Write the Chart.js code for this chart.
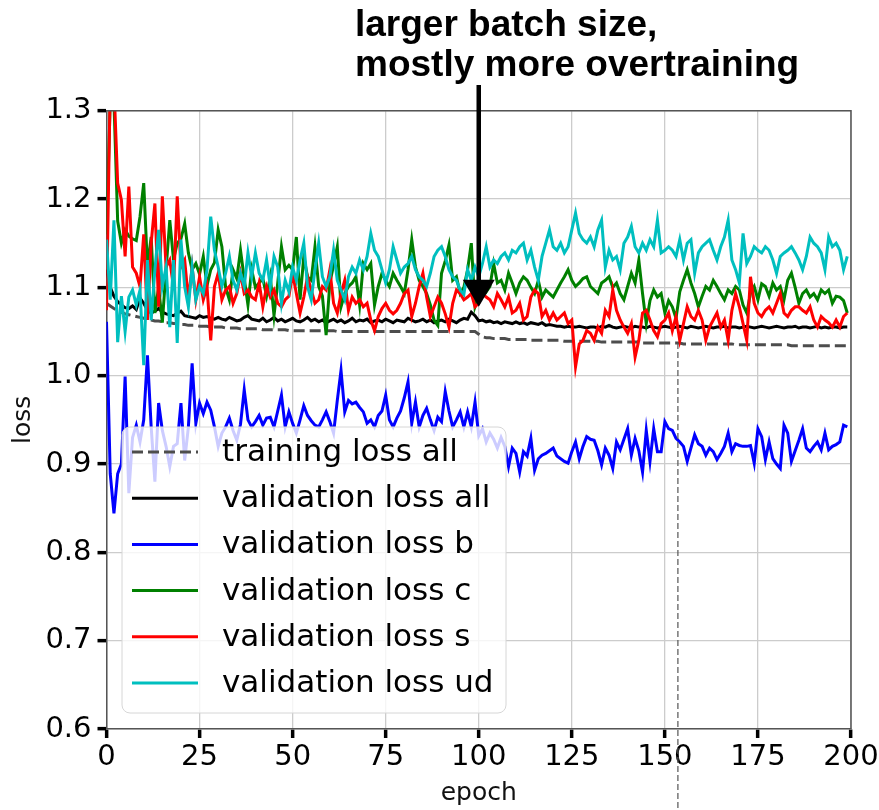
<!DOCTYPE html>
<html><head><meta charset="utf-8">
<script src="https://cdn.jsdelivr.net/npm/chart.js@4.4.0/dist/chart.umd.min.js"></script>
<style>
html,body{margin:0;padding:0;background:#fff;overflow:hidden;width:879px;height:810px}
canvas{display:block}
</style>
</head><body>
<canvas id="c" width="879" height="810" style="width:879px;height:810px"></canvas>
<script>
// ---------------- data ----------------
const seriesLabels = ['training loss all','validation loss all','validation loss b','validation loss c','validation loss s','validation loss ud'];
const xTicks = [0,25,50,75,100,125,150,175,200];
const yTicks = [0.6,0.7,0.8,0.9,1.0,1.1,1.2,1.3];
const annotationLines = ['larger batch size,','mostly more overtraining'];
const arrowEpoch = 100, arrowTipLoss = 1.078, arrowTailLoss = 1.329;
const markerEpoch = 153.5, markerLoss = 1.037;

const trainLoss = [
1.082,1.079,1.076,1.074,1.072,1.070,1.069,1.068,1.067,1.066,
1.065,1.064,1.063,1.062,1.062,1.061,1.060,1.060,1.059,1.059,
1.058,1.058,1.057,1.057,1.057,1.056,1.056,1.056,1.055,1.055,
1.055,1.055,1.054,1.054,1.054,1.054,1.053,1.053,1.053,1.053,
1.053,1.053,1.052,1.052,1.052,1.052,1.052,1.052,1.052,1.051,
1.051,1.051,1.051,1.051,1.051,1.051,1.051,1.051,1.051,1.051,
1.051,1.051,1.050,1.050,1.050,1.050,1.050,1.050,1.050,1.050,
1.050,1.050,1.050,1.050,1.050,1.050,1.050,1.050,1.050,1.050,
1.050,1.050,1.050,1.050,1.050,1.050,1.050,1.050,1.050,1.050,
1.050,1.050,1.050,1.050,1.050,1.050,1.050,1.050,1.050,1.050,
1.047,1.044,1.043,1.043,1.042,1.042,1.042,1.042,1.041,1.041,
1.041,1.041,1.041,1.041,1.040,1.040,1.040,1.040,1.040,1.040,
1.040,1.040,1.040,1.039,1.039,1.039,1.039,1.039,1.039,1.039,
1.039,1.039,1.039,1.038,1.038,1.038,1.038,1.038,1.038,1.038,
1.038,1.038,1.038,1.038,1.037,1.037,1.037,1.037,1.037,1.037,
1.037,1.037,1.037,1.037,1.037,1.036,1.036,1.036,1.036,1.036,
1.036,1.036,1.036,1.036,1.036,1.036,1.036,1.036,1.036,1.035,
1.035,1.035,1.035,1.035,1.035,1.035,1.035,1.035,1.035,1.035,
1.035,1.035,1.035,1.035,1.034,1.034,1.034,1.034,1.034,1.034,
1.034,1.034,1.034,1.034,1.034,1.034,1.034,1.034,1.034,1.034];

const valAll = [
1.120,1.100,1.090,1.084,1.080,1.077,1.076,1.079,1.075,1.088,
1.082,1.074,1.071,1.073,1.076,1.072,1.070,1.069,1.068,1.071,
1.073,1.068,1.067,1.066,1.065,1.068,1.066,1.067,1.065,1.064,
1.066,1.064,1.063,1.066,1.064,1.062,1.063,1.066,1.068,1.064,
1.063,1.062,1.065,1.061,1.063,1.066,1.062,1.064,1.061,1.063,
1.065,1.062,1.061,1.063,1.066,1.062,1.064,1.061,1.063,1.060,
1.062,1.064,1.061,1.063,1.060,1.062,1.065,1.061,1.063,1.062,
1.064,1.060,1.062,1.063,1.061,1.064,1.062,1.060,1.063,1.062,
1.061,1.065,1.063,1.061,1.062,1.064,1.061,1.063,1.060,1.062,
1.063,1.061,1.064,1.062,1.060,1.063,1.065,1.064,1.072,1.068,
1.062,1.063,1.061,1.062,1.060,1.061,1.059,1.061,1.060,1.059,
1.061,1.059,1.060,1.058,1.060,1.059,1.058,1.060,1.057,1.058,
1.057,1.056,1.056,1.055,1.056,1.055,1.055,1.056,1.055,1.054,
1.055,1.055,1.054,1.056,1.055,1.057,1.055,1.054,1.055,1.056,
1.055,1.054,1.056,1.055,1.055,1.054,1.056,1.055,1.054,1.055,
1.056,1.055,1.054,1.055,1.056,1.055,1.054,1.056,1.055,1.054,
1.055,1.056,1.055,1.054,1.055,1.055,1.056,1.054,1.055,1.055,
1.054,1.055,1.056,1.055,1.054,1.055,1.056,1.055,1.054,1.055,
1.056,1.055,1.054,1.055,1.055,1.056,1.054,1.055,1.055,1.054,
1.055,1.056,1.054,1.055,1.054,1.055,1.055,1.054,1.055,1.055];

const valB = [
1.061,0.889,0.844,0.889,0.900,0.999,0.867,0.930,0.944,0.925,
0.950,1.023,0.942,0.880,0.969,0.938,0.920,0.897,0.920,0.923,
0.969,0.904,0.942,1.014,0.946,0.969,0.957,0.970,0.961,0.942,
0.920,0.935,0.942,0.952,0.938,0.927,0.945,0.984,0.950,0.942,
0.948,0.955,0.944,0.952,0.953,0.942,0.960,0.978,0.942,0.959,
0.946,0.935,0.950,0.966,0.955,0.949,0.944,0.942,0.950,0.959,
0.948,0.935,0.972,1.006,0.959,0.972,0.968,0.970,0.964,0.959,
0.946,0.950,0.942,0.955,0.960,0.978,0.950,0.942,0.952,0.960,
0.975,0.993,0.946,0.970,0.942,0.955,0.963,0.950,0.938,0.953,
0.948,0.982,0.960,0.942,0.950,0.959,0.942,0.959,0.942,0.970,
0.932,0.940,0.925,0.935,0.928,0.918,0.930,0.920,0.897,0.918,
0.912,0.891,0.914,0.909,0.929,0.893,0.906,0.910,0.912,0.915,
0.918,0.909,0.906,0.903,0.901,0.914,0.925,0.906,0.920,0.931,
0.928,0.927,0.915,0.899,0.918,0.910,0.895,0.925,0.916,0.928,
0.940,0.910,0.929,0.915,0.891,0.938,0.903,0.940,0.914,0.914,
0.948,0.940,0.938,0.929,0.925,0.920,0.903,0.918,0.933,0.923,
0.920,0.910,0.918,0.914,0.905,0.912,0.920,0.935,0.914,0.923,
0.921,0.920,0.920,0.921,0.901,0.940,0.931,0.905,0.925,0.906,
0.900,0.895,0.944,0.935,0.903,0.915,0.927,0.940,0.918,0.914,
0.920,0.925,0.916,0.935,0.916,0.920,0.922,0.925,0.944,0.942];

const valC = [
1.160,1.310,1.310,1.175,1.150,1.165,1.158,1.155,1.153,1.180,
1.218,1.123,1.157,1.071,1.100,1.060,1.120,1.176,1.131,1.150,
1.155,1.172,1.139,1.120,1.127,1.115,1.135,1.102,1.120,1.128,
1.165,1.146,1.100,1.086,1.120,1.110,1.142,1.110,1.080,1.120,
1.100,1.105,1.110,1.090,1.112,1.068,1.105,1.146,1.120,1.125,
1.120,1.157,1.086,1.135,1.112,1.108,1.146,1.101,1.090,1.046,
1.105,1.125,1.146,1.078,1.093,1.101,1.105,1.112,1.080,1.127,
1.120,1.127,1.080,1.101,1.116,1.108,1.101,1.116,1.108,1.101,
1.093,1.120,1.154,1.123,1.108,1.101,1.093,1.080,1.063,1.057,
1.116,1.130,1.148,1.108,1.112,1.093,1.100,1.120,1.150,1.078,
1.090,1.101,1.095,1.101,1.127,1.105,1.108,1.097,1.116,1.105,
1.093,1.105,1.112,1.108,1.100,1.093,1.108,1.089,1.097,1.093,
1.089,1.097,1.105,1.112,1.120,1.108,1.101,1.105,1.110,1.112,
1.101,1.097,1.093,1.105,1.108,1.112,1.100,1.105,1.093,1.086,
1.101,1.116,1.105,1.131,1.093,1.059,1.085,1.097,1.089,1.093,
1.071,1.085,1.078,1.065,1.095,1.108,1.120,1.105,1.093,1.078,
1.090,1.101,1.097,1.108,1.101,1.093,1.086,1.097,1.093,1.101,
1.097,1.080,1.071,1.093,1.101,1.086,1.104,1.101,1.090,1.105,
1.097,1.101,1.086,1.108,1.116,1.100,1.082,1.093,1.097,1.089,
1.093,1.086,1.097,1.093,1.097,1.082,1.090,1.089,1.085,1.071];

const valS = [
1.074,1.330,1.330,1.218,1.199,1.135,1.214,1.123,1.116,1.101,
1.160,1.063,1.150,1.195,1.078,1.203,1.123,1.131,1.100,1.203,
1.123,1.131,1.086,1.123,1.086,1.112,1.086,1.101,1.040,1.101,
1.116,1.086,1.097,1.101,1.082,1.093,1.116,1.093,1.097,1.089,
1.086,1.105,1.078,1.101,1.089,1.097,1.082,1.078,1.086,1.090,
1.116,1.093,1.071,1.089,1.112,1.097,1.082,1.086,1.101,1.097,
1.120,1.082,1.071,1.093,1.108,1.074,1.089,1.082,1.086,1.078,
1.082,1.063,1.051,1.067,1.076,1.082,1.074,1.070,1.074,1.082,
1.093,1.097,1.067,1.082,1.101,1.116,1.089,1.067,1.078,1.089,
1.082,1.070,1.055,1.082,1.097,1.093,1.086,1.089,1.093,1.078,
1.082,1.093,1.089,1.086,1.078,1.093,1.086,1.078,1.089,1.071,
1.074,1.082,1.063,1.067,1.089,1.097,1.093,1.067,1.074,1.063,
1.071,1.063,1.067,1.071,1.059,1.063,1.010,1.036,1.040,1.051,
1.048,1.040,1.055,1.048,1.074,1.067,1.097,1.074,1.063,1.055,
1.048,1.059,1.021,1.040,1.071,1.074,1.063,1.051,1.044,1.059,
1.063,1.071,1.051,1.067,1.040,1.059,1.078,1.067,1.063,1.074,
1.063,1.040,1.055,1.063,1.071,1.055,1.063,1.040,1.074,1.093,
1.078,1.059,1.040,1.112,1.082,1.071,1.067,1.074,1.078,1.071,
1.082,1.093,1.071,1.067,1.074,1.078,1.078,1.074,1.071,1.078,
1.063,1.055,1.067,1.063,1.060,1.055,1.063,1.055,1.067,1.071];

const valUd = [
1.154,1.086,1.176,1.038,1.090,1.050,1.089,1.097,1.080,1.097,
1.012,1.131,1.063,1.120,1.165,1.101,1.123,1.055,1.131,1.037,
1.154,1.101,1.078,1.123,1.086,1.101,1.093,1.120,1.180,1.142,
1.123,1.101,1.116,1.135,1.108,1.097,1.116,1.101,1.139,1.112,
1.139,1.116,1.108,1.131,1.101,1.135,1.123,1.082,1.108,1.095,
1.123,1.108,1.131,1.150,1.101,1.086,1.120,1.150,1.112,1.101,
1.112,1.142,1.108,1.097,1.086,1.112,1.123,1.116,1.131,1.120,
1.135,1.161,1.142,1.135,1.120,1.105,1.120,1.146,1.131,1.116,
1.123,1.127,1.135,1.120,1.112,1.108,1.101,1.116,1.135,1.142,
1.146,1.135,1.120,1.112,1.108,1.097,1.092,1.120,1.108,1.123,
1.112,1.127,1.146,1.123,1.131,1.127,1.135,1.139,1.131,1.142,
1.139,1.146,1.150,1.131,1.142,1.123,1.108,1.135,1.150,1.165,
1.146,1.142,1.150,1.139,1.146,1.165,1.184,1.161,1.154,1.150,
1.157,1.146,1.165,1.176,1.123,1.142,1.131,1.135,1.120,1.150,
1.157,1.169,1.146,1.139,1.150,1.142,1.154,1.146,1.176,1.139,
1.142,1.146,1.142,1.135,1.154,1.131,1.150,1.154,1.116,1.139,
1.146,1.150,1.154,1.142,1.131,1.146,1.157,1.176,1.131,1.120,
1.105,1.161,1.127,1.135,1.146,1.142,1.139,1.146,1.142,1.131,
1.116,1.135,1.139,1.142,1.146,1.139,1.131,1.120,1.135,1.157,
1.150,1.146,1.139,1.120,1.157,1.146,1.150,1.142,1.120,1.135];

const epochs = trainLoss.map((_, i) => i);

// ---------------- chart ----------------
const W = 879, H = 810;
const canvas = document.getElementById('c');
const FONT = "'DejaVu Sans', sans-serif";
const seriesColors = ['#4d4d4d', '#000000', '#0000ff', '#008000', '#ff0000', '#00bfbf'];
const seriesValues = [trainLoss, valAll, valB, valC, valS, valUd];

const datasets = seriesValues.map((vals, i) => ({
  label: seriesLabels[i],
  data: vals,
  borderColor: seriesColors[i],
  backgroundColor: seriesColors[i],
  borderWidth: 3,
  borderDash: i === 0 ? [11, 5] : [],
  pointRadius: 0,
  tension: 0,
  fill: false,
  order: seriesValues.length - i
}));

function roundRect(ctx, x, y, w, h, r) {
  ctx.beginPath();
  ctx.moveTo(x + r, y);
  ctx.arcTo(x + w, y, x + w, y + h, r);
  ctx.arcTo(x + w, y + h, x, y + h, r);
  ctx.arcTo(x, y + h, x, y, r);
  ctx.arcTo(x, y, x + w, y, r);
  ctx.closePath();
}

const overlay = {
  id: 'overlay',
  afterDatasetsDraw(chart) {
    const {ctx, chartArea: a, scales: {x, y}} = chart;
    ctx.save();
    // top/right frame
    ctx.strokeStyle = '#555'; ctx.lineWidth = 1.5;
    ctx.beginPath(); ctx.moveTo(a.left, a.top); ctx.lineTo(a.right, a.top); ctx.lineTo(a.right, a.bottom); ctx.stroke();

    // vertical dashed marker
    const mx = x.getPixelForValue(markerEpoch);
    ctx.strokeStyle = '#555'; ctx.lineWidth = 1.2; ctx.setLineDash([6, 3]);
    ctx.beginPath(); ctx.moveTo(mx, y.getPixelForValue(markerLoss)); ctx.lineTo(mx, chart.height); ctx.stroke();
    ctx.setLineDash([]);

    // legend
    const lx = 122, lw = 384, ly = 427, lh = 286;
    roundRect(ctx, lx, ly, lw, lh, 8);
    ctx.fillStyle = 'rgba(255,255,255,0.8)'; ctx.fill();
    ctx.strokeStyle = '#d6d6d6'; ctx.lineWidth = 1; ctx.stroke();
    ctx.font = '31px ' + FONT; ctx.textBaseline = 'middle'; ctx.textAlign = 'left';
    chart.data.datasets.forEach((ds, i) => {
      const yc = 452 + i * 46.2;
      ctx.strokeStyle = ds.borderColor; ctx.lineWidth = 3;
      ctx.setLineDash(ds.borderDash || []);
      ctx.beginPath(); ctx.moveTo(132, yc); ctx.lineTo(198, yc); ctx.stroke();
      ctx.setLineDash([]);
      ctx.fillStyle = '#000';
      ctx.fillText(ds.label, 222, yc + 1);
    });

    // arrow
    const ax = x.getPixelForValue(arrowEpoch);
    const tipY = y.getPixelForValue(arrowTipLoss);
    const tailY = y.getPixelForValue(arrowTailLoss);
    const headLen = 27, headHalf = 16;
    ctx.strokeStyle = '#000'; ctx.fillStyle = '#000'; ctx.lineWidth = 4.5;
    ctx.beginPath(); ctx.moveTo(ax, tailY); ctx.lineTo(ax, tipY - headLen + 2); ctx.stroke();
    ctx.beginPath(); ctx.moveTo(ax - headHalf, tipY - headLen); ctx.lineTo(ax + headHalf, tipY - headLen); ctx.lineTo(ax, tipY); ctx.closePath(); ctx.fill();

    // annotation text
    ctx.font = "bold 37px 'Liberation Sans', Arial, sans-serif";
    ctx.textBaseline = 'alphabetic'; ctx.textAlign = 'left';
    ctx.fillText(annotationLines[0], 355, 36);
    ctx.fillText(annotationLines[1], 355, 76);
    ctx.restore();
  }
};

new Chart(canvas, {
  type: 'line',
  data: { labels: epochs, datasets },
  options: {
    responsive: false,
    devicePixelRatio: 1,
    animation: false,
    events: [],
    layout: { padding: { top: 110.7, right: W - 851, left: 0, bottom: 0 } },
    plugins: { legend: { display: false }, tooltip: { enabled: false } },
    scales: {
      x: {
        type: 'linear', min: 0, max: 200,
        afterBuildTicks: s => { s.ticks = xTicks.map(v => ({ value: v })); },
        afterFit: s => { s.height = H - 729; s.paddingLeft = 0; s.paddingRight = 0; },
        ticks: { color: '#000', font: { family: FONT, size: 29 }, padding: 2, maxRotation: 0, autoSkip: false },
        grid: { color: '#cccccc', lineWidth: 1.3, tickColor: '#000', tickLength: 9, tickWidth: 3.5 },
        border: { display: true, color: '#555', width: 1.5 },
        title: { display: true, text: 'epoch', color: '#111', font: { family: FONT, size: 25 }, padding: { top: 0, bottom: 2 } }
      },
      y: {
        type: 'linear', min: 0.6, max: 1.3,
        afterBuildTicks: s => { s.ticks = yTicks.map(v => ({ value: v })); },
        afterFit: s => { s.width = 106.5; s.paddingTop = 0; s.paddingBottom = 0; },
        ticks: { color: '#000', font: { family: FONT, size: 29 }, padding: 6, callback: v => Number(v).toFixed(1) },
        grid: { color: '#cccccc', lineWidth: 1.3, tickColor: '#000', tickLength: 9, tickWidth: 3.5 },
        border: { display: true, color: '#555', width: 1.5 },
        title: { display: true, text: 'loss', color: '#111', font: { family: FONT, size: 25 }, padding: { top: 8, bottom: 0 } }
      }
    }
  },
  plugins: [overlay]
});
</script>
</body></html>
